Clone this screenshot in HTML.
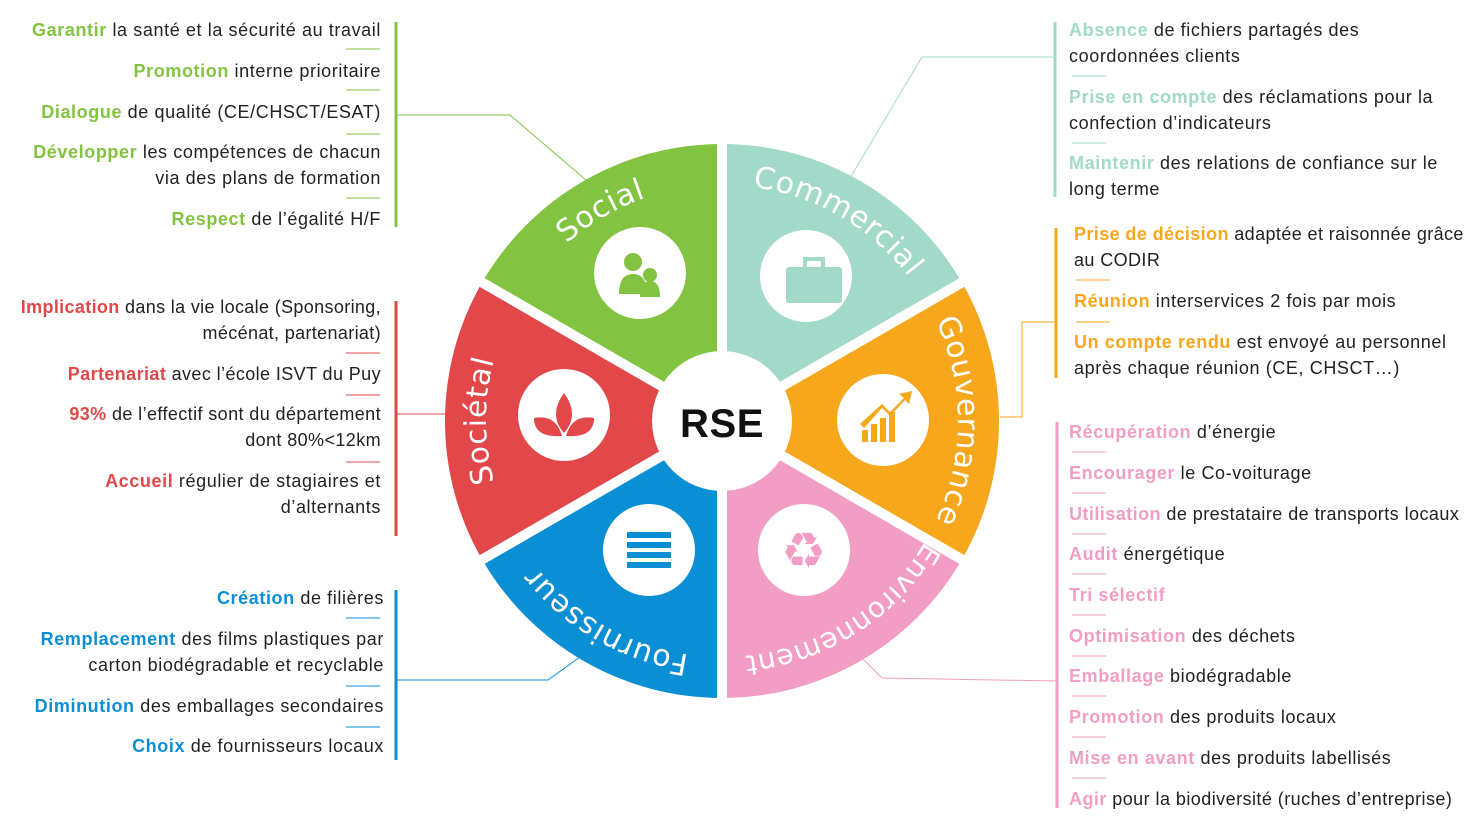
<!DOCTYPE html>
<html><head><meta charset="utf-8">
<style>
body{margin:0;width:1473px;height:828px;background:#fff;position:relative;overflow:hidden;font-family:"Liberation Sans","DejaVu Sans",sans-serif;font-size:18px;color:#222;letter-spacing:0.6px}
.t{position:absolute;line-height:26px;white-space:nowrap}
.r{text-align:right}
b{font-weight:bold}
.g b{color:#82c341}.re b{color:#e2474a}.bl b{color:#0a8fd4}.te b{color:#a3d9c9}.o b{color:#f7a71c}.p b{color:#f29ec4}
</style></head><body>
<svg width="1473" height="828" style="position:absolute;left:0;top:0">
<defs><path id="circ" d="M722,657 A236,236 0 1,1 722,185 A236,236 0 1,1 722,657"/></defs>
<path d="M722,421 L482.1,282.5 A277,277 0 0,1 722,144Z" fill="#82c341"/>
<path d="M722,421 L722,144 A277,277 0 0,1 961.9,282.5Z" fill="#a3d9c9"/>
<path d="M722,421 L961.9,282.5 A277,277 0 0,1 961.9,559.5Z" fill="#f7a71c"/>
<path d="M722,421 L961.9,559.5 A277,277 0 0,1 722,698Z" fill="#f29ec4"/>
<path d="M722,421 L722,698 A277,277 0 0,1 482.1,559.5Z" fill="#0a8fd4"/>
<path d="M722,421 L482.1,559.5 A277,277 0 0,1 482.1,282.5Z" fill="#e2474a"/>
<g stroke="#fff" stroke-width="10">
<line x1="722" y1="421" x2="722" y2="130"/><line x1="722" y1="421" x2="722" y2="712"/>
<line x1="722" y1="421" x2="470" y2="275.5"/><line x1="722" y1="421" x2="974" y2="275.5"/>
<line x1="722" y1="421" x2="470" y2="566.5"/><line x1="722" y1="421" x2="974" y2="566.5"/>
</g>
<circle cx="722" cy="421" r="70" fill="#fff"/>
<text x="722" y="437" text-anchor="middle" font-family="Liberation Sans, sans-serif" font-weight="bold" font-size="40" fill="#111">RSE</text>
<g font-family="DejaVu Sans, sans-serif" font-size="30" fill="#fff" text-anchor="middle">
<text><textPath href="#circ" startOffset="25%">Sociétal</textPath></text>
<text><textPath href="#circ" startOffset="41.67%">Social</textPath></text>
<text><textPath href="#circ" startOffset="58.33%">Commercial</textPath></text>
<text><textPath href="#circ" startOffset="75%">Gouvernance</textPath></text>
<text font-size="28"><textPath href="#circ" startOffset="91%">Environnement</textPath></text>
<text><textPath href="#circ" startOffset="8.33%">Fournisseur</textPath></text>
</g>
<g fill="#fff">
<circle cx="640" cy="273" r="46"/><circle cx="806" cy="276" r="46"/><circle cx="883" cy="420" r="46"/>
<circle cx="804" cy="550" r="46"/><circle cx="649" cy="550" r="46"/><circle cx="564" cy="415" r="46"/>
</g>
<g fill="#82c341"><circle cx="633" cy="262" r="9"/><path d="M619,294 q0,-20 14,-20 q14,0 14,20z"/><circle cx="650" cy="275" r="7"/><path d="M640,297 q0,-16 10,-16 q10,0 10,16z"/></g>
<g fill="#a3d9c9"><rect x="786" y="267" width="56" height="36" rx="3"/><rect x="805" y="259" width="18" height="10" fill="none" stroke="#a3d9c9" stroke-width="4"/></g>
<g fill="#f7a71c"><rect x="862" y="430" width="6" height="12"/><rect x="871" y="424" width="6" height="18"/><rect x="880" y="418" width="6" height="24"/><rect x="889" y="412" width="6" height="30"/><path d="M860,424 L882,404 L890,412 L904,398 L899,394 L912,391 L909,404 L905,400 L890,416 L882,408 L864,428Z"/></g>
<text x="804" y="568" text-anchor="middle" font-family="DejaVu Sans, sans-serif" font-size="50" fill="#f29ec4">♻</text>
<g fill="#0a8fd4"><rect x="627" y="532" width="44" height="6"/><rect x="627" y="542" width="44" height="6"/><rect x="627" y="552" width="44" height="6"/><rect x="627" y="562" width="44" height="6"/></g>
<g fill="#e2474a"><path d="M564,433 q-16,-18 0,-40 q16,22 0,40z"/><path d="M562,436 q-6,-22 -28,-18 q0,20 28,18z"/><path d="M566,436 q6,-22 28,-18 q0,20 -28,18z"/></g>
<g stroke-width="3">
<line x1="396" y1="22" x2="396" y2="227" stroke="#82c341"/>
<line x1="396" y1="301" x2="396" y2="536" stroke="#e2474a"/>
<line x1="396" y1="590" x2="396" y2="760" stroke="#0a8fd4"/>
<line x1="1055" y1="22" x2="1055" y2="197" stroke="#a3d9c9"/>
<line x1="1056" y1="228" x2="1056" y2="378" stroke="#f7a71c"/>
<line x1="1057" y1="422" x2="1057" y2="808" stroke="#f29ec4"/>
</g>
<g fill="none" stroke-width="1">
<polyline points="396,115 510,115 586,180" stroke="#82c341"/>
<polyline points="1055,57 922,57 850,178" stroke="#a3d9c9"/>
<polyline points="1056,322 1022,322 1022,417 1000,417" stroke="#f7a71c"/>
<polyline points="1057,681 882,678 862,658" stroke="#f29ec4"/>
<polyline points="396,680 548,680 580,657" stroke="#0a8fd4"/>
<polyline points="396,414 446,414" stroke="#e2474a"/>
</g>
<g stroke-width="1">
<g stroke="#82c341"><line x1="346" y1="49" x2="380" y2="49"/><line x1="346" y1="90" x2="380" y2="90"/><line x1="346" y1="134" x2="380" y2="134"/><line x1="346" y1="198" x2="380" y2="198"/></g>
<g stroke="#e2474a"><line x1="346" y1="353" x2="380" y2="353"/><line x1="346" y1="395" x2="380" y2="395"/><line x1="346" y1="462" x2="380" y2="462"/></g>
<g stroke="#0a8fd4"><line x1="346" y1="618" x2="380" y2="618"/><line x1="346" y1="686" x2="380" y2="686"/><line x1="346" y1="727" x2="380" y2="727"/></g>
<g stroke="#a3d9c9"><line x1="1072" y1="76" x2="1106" y2="76"/><line x1="1072" y1="143" x2="1106" y2="143"/></g>
<g stroke="#f7a71c"><line x1="1076" y1="280" x2="1110" y2="280"/><line x1="1076" y1="322" x2="1110" y2="322"/></g>
<g stroke="#f29ec4"><line x1="1072" y1="452" x2="1106" y2="452"/><line x1="1072" y1="493" x2="1106" y2="493"/><line x1="1072" y1="534" x2="1106" y2="534"/><line x1="1072" y1="574" x2="1106" y2="574"/><line x1="1072" y1="615" x2="1106" y2="615"/><line x1="1072" y1="656" x2="1106" y2="656"/><line x1="1072" y1="696" x2="1106" y2="696"/><line x1="1072" y1="737" x2="1106" y2="737"/><line x1="1072" y1="778" x2="1106" y2="778"/></g>
</g>
</svg>

<div class="g">
<div class="t r" style="right:1092px;top:17px"><b>Garantir</b> la santé et la sécurité au travail</div>
<div class="t r" style="right:1092px;top:58px"><b>Promotion</b> interne prioritaire</div>
<div class="t r" style="right:1092px;top:99px"><b>Dialogue</b> de qualité (CE/CHSCT/ESAT)</div>
<div class="t r" style="right:1092px;top:139px"><b>Développer</b> les compétences de chacun<br>via des plans de formation</div>
<div class="t r" style="right:1092px;top:206px"><b>Respect</b> de l’égalité H/F</div>
</div>
<div class="re">
<div class="t r" style="right:1092px;top:294px;letter-spacing:0.35px"><b>Implication</b> dans la vie locale (Sponsoring,<br>mécénat, partenariat)</div>
<div class="t r" style="right:1092px;top:361px;letter-spacing:0.4px"><b>Partenariat</b> avec l’école ISVT du Puy</div>
<div class="t r" style="right:1092px;top:401px;letter-spacing:0.4px"><b>93%</b> de l’effectif sont du département<br>dont 80%&lt;12km</div>
<div class="t r" style="right:1092px;top:468px"><b>Accueil</b> régulier de stagiaires et<br>d’alternants</div>
</div>
<div class="bl">
<div class="t r" style="right:1089px;top:585px"><b>Création</b> de filières</div>
<div class="t r" style="right:1089px;top:626px"><b>Remplacement</b> des films plastiques par<br>carton biodégradable et recyclable</div>
<div class="t r" style="right:1089px;top:693px"><b>Diminution</b> des emballages secondaires</div>
<div class="t r" style="right:1089px;top:733px"><b>Choix</b> de fournisseurs locaux</div>
</div>
<div class="te">
<div class="t" style="left:1069px;top:17px"><b>Absence</b> de fichiers partagés des<br>coordonnées clients</div>
<div class="t" style="left:1069px;top:84px"><b>Prise en compte</b> des réclamations pour la<br>confection d’indicateurs</div>
<div class="t" style="left:1069px;top:150px"><b>Maintenir</b> des relations de confiance sur le<br>long terme</div>
</div>
<div class="o">
<div class="t" style="left:1074px;top:221px;letter-spacing:0.4px"><b>Prise de décision</b> adaptée et raisonnée grâce<br>au CODIR</div>
<div class="t" style="left:1074px;top:288px"><b>Réunion</b> interservices 2 fois par mois</div>
<div class="t" style="left:1074px;top:329px"><b>Un compte rendu</b> est envoyé au personnel<br>après chaque réunion (CE, CHSCT…)</div>
</div>
<div class="p">
<div class="t" style="left:1069px;top:419px"><b>Récupération</b> d’énergie</div>
<div class="t" style="left:1069px;top:460px"><b>Encourager</b> le Co-voiturage</div>
<div class="t" style="left:1069px;top:501px;letter-spacing:0.45px"><b>Utilisation</b> de prestataire de transports locaux</div>
<div class="t" style="left:1069px;top:541px"><b>Audit</b> énergétique</div>
<div class="t" style="left:1069px;top:582px"><b>Tri sélectif</b></div>
<div class="t" style="left:1069px;top:623px"><b>Optimisation</b> des déchets</div>
<div class="t" style="left:1069px;top:663px"><b>Emballage</b> biodégradable</div>
<div class="t" style="left:1069px;top:704px"><b>Promotion</b> des produits locaux</div>
<div class="t" style="left:1069px;top:745px"><b>Mise en avant</b> des produits labellisés</div>
<div class="t" style="left:1069px;top:786px;letter-spacing:0.45px"><b>Agir</b> pour la biodiversité (ruches d’entreprise)</div>
</div>
</body></html>
